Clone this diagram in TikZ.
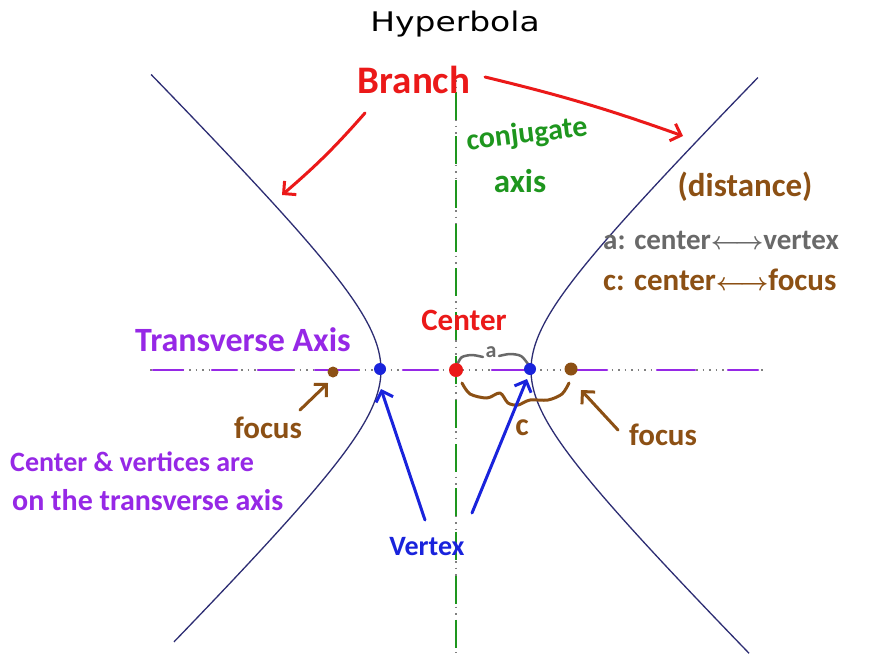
\documentclass[tikz,border=0pt]{standalone}
\usepackage{fontspec}
\setmainfont{Carlito}
\newfontfamily\titlefont{DejaVu Sans}
\usetikzlibrary{arrows.meta}
\definecolor{hred}{RGB}{235,25,25}
\definecolor{hgreen}{RGB}{30,150,30}
\definecolor{hpurple}{RGB}{150,40,230}
\definecolor{hbrown}{RGB}{140,80,20}
\definecolor{hblue}{RGB}{25,35,220}
\definecolor{hgray}{RGB}{105,105,105}
\definecolor{hcurve}{RGB}{45,45,115}
\begin{document}
\begin{tikzpicture}[x=1pt,y=-1pt,
  hw/.style={font=\fontsize{#1}{#1}\selectfont\bfseries\boldmath, inner sep=0pt},
  titletext/.style={font=\titlefont\fontsize{27}{27}\selectfont, inner sep=0pt},
  curve/.style={hcurve, line width=1.3pt},
  axisdot/.style={gray, line width=1.2pt, dash pattern=on 1.5pt off 5pt},
  stroke/.style={line width=3pt, line cap=round, line join=round},
  arr/.style={stroke, -{Straight Barb[length=9pt,width=18pt,line width=3pt]}},
  pt/.style={circle, inner sep=0pt, minimum size=#1},
]
\useasboundingbox (0,0) rectangle (869,653);
\fill[white] (0,0) rectangle (869,653);

% title
\node[titletext] (title) at (455,24) {\scalebox{1.22}[1]{Hyperbola}};

% axes (gray dotted)
\draw[axisdot] (150,370) -- (765,370);
\draw[axisdot] (456,80) -- (456,653);

% conjugate axis green dashes
\draw[hgreen, line width=2.5pt, dash pattern=on 28pt off 16pt] (456,92) -- (456,653);

% transverse axis purple dashes
\foreach \a/\b in {153/183, 212/237, 258/293, 315/358, 403/438, 492/525, 577/607, 657/695, 728/758}
  \draw[hpurple, stroke, line width=2.5pt] (\a,370) -- (\b,370);

% hyperbola branches
\draw[curve] plot[domain=-2.07:2.04, samples=90] ({456+75*cosh(\x)},{370+75*sinh(\x)});
\draw[curve] plot[domain=-2.08:2.0, samples=90] ({456-75*cosh(\x)},{370+75*sinh(\x)});

% a brace (gray)
\draw[hgray, stroke, line width=2.5pt] plot[smooth] coordinates {(458,363) (462,357) (472,355) (483,357)};
\draw[hgray, stroke, line width=2.5pt] plot[smooth] coordinates {(499,356) (510,354) (521,356) (528,364)};
\node[hw=22, text=hgray] (alab) at (491,352) {a};

% c brace (brown)
\draw[hbrown, stroke] plot[smooth] coordinates {(462,383) (470,394) (487,398) (500,393) (508,403) (518,405) (530,400) (548,400) (562,394) (569,383)};
\node[hw=32, text=hbrown] (clab) at (522,428) {c};

% points
\node[pt=14pt, fill=hred] (center) at (456,370) {};
\node[pt=12pt, fill=hblue] (v1) at (380,369) {};
\node[pt=12pt, fill=hblue] (v2) at (530,369) {};
\node[pt=11pt, fill=hbrown] (f1) at (333,372) {};
\node[pt=13pt, fill=hbrown] (f2) at (571,369) {};

% labels
\node[hw=39, text=hred] (branch) at (414,80) {Branch};
\node[hw=30, text=hgreen, rotate=7] (conj) at (527,135) {conjugate};
\node[hw=33, text=hgreen] (axisw) at (520,181) {axis};
\node[hw=33, text=hbrown] (dist) at (745,187) {(distance)};
\node[hw=29, text=hgray, anchor=west] (adef) at (603,240) {a: center$\longleftrightarrow$vertex};
\node[hw=31, text=hbrown, anchor=west] (cdef) at (603,280) {c: center$\longleftrightarrow$focus};
\node[hw=34, text=hpurple] (trans) at (243,340) {Transverse Axis};
\node[hw=31, text=hred] (centerlab) at (464,320) {Center};
\node[hw=31, text=hbrown] (focusl) at (268,428) {focus};
\node[hw=31, text=hbrown] (focusr) at (663,435) {focus};
\node[hw=28, text=hblue] (vertex) at (427,547) {Vertex};
\node[hw=28, text=hpurple, anchor=west] (note1) at (10,462) {Center \& vertices are};
\node[hw=30, text=hpurple, anchor=west] (note2) at (12,500) {on the transverse axis};

% arrows
\coordinate (bl0) at (365,113);
\coordinate (bl1) at (282,195);
\coordinate (br0) at (485,77);
\coordinate (br1) at (683,136);
\draw[arr, hred] (bl0) to[bend left=4] (bl1);
\draw[arr, hred] (br0) to[bend left=3] (br1);

\coordinate (fl0) at (300,410);
\coordinate (fl1) at (328,383);
\draw[arr, hbrown] (fl0) -- (fl1);
\coordinate (fr0) at (618,430);
\coordinate (fr1) at (581,390);
\draw[arr, hbrown] (fr0) -- (fr1);

\coordinate (vl0) at (425,520);
\coordinate (vl1) at (381,389);
\draw[arr, hblue] (vl0) -- (vl1);
\coordinate (vr0) at (472,513);
\coordinate (vr1) at (527,379);
\draw[arr, hblue] (vr0) -- (vr1);
\end{tikzpicture}
\end{document}
